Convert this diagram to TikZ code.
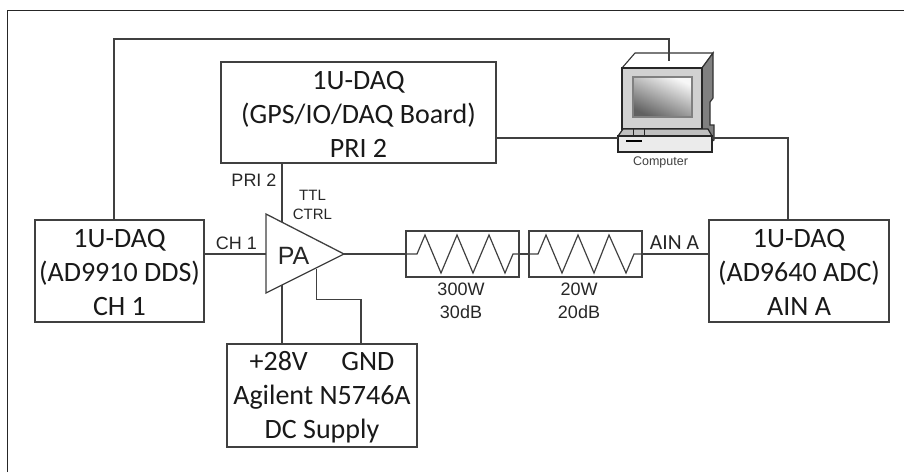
\documentclass[tikz,border=0pt]{standalone}
\usepackage{fontspec}
\setmainfont{Carlito}
\newfontfamily\arialf{Liberation Sans}
\tikzset{
  wire/.style={draw=black!75,line width=1.2pt},
  blockbox/.style={draw=black!75,line width=1.3pt,fill=white,inner sep=0pt},
  boxtext/.style={inner sep=0pt,align=center,font=\fontsize{28}{34}\selectfont,text=black!90},
  lab/.style={font=\arialf\fontsize{18}{20}\selectfont,text=black!85,inner sep=0pt,align=center},
  smalllab/.style={font=\arialf\fontsize{15}{19}\selectfont,text=black!85,inner sep=0pt,align=center},
  attlab/.style={font=\arialf\fontsize{18}{23}\selectfont,text=black!85,inner sep=0pt,align=center},
  resbox/.style={draw=black!75,line width=1.2pt,minimum width=113pt,minimum height=46pt,inner sep=0pt},
  zig/.style={draw=black!75,line width=1.2pt,line join=miter},
}
\begin{document}
\begin{tikzpicture}[x=1pt,y=-1pt]
\useasboundingbox (0,0) rectangle (904,472);
\draw[black!85,line width=1pt] (7.5,472) -- (7.5,10) -- (904,10);
% computer
\path[draw=black!80,line width=1.1pt,fill=white] (622,68) -- (635,53) -- (713,53) -- (702,68) -- cycle;
\path[draw=black!80,line width=1.2pt,fill=black!50] (702,68) -- (713,53) -- (713,98) -- (710,102) -- (710,125) -- (714,125) -- (714,140) -- (702,148) -- cycle;
\path[draw=black!85,line width=1.2pt,fill=black!18] (622,68) rectangle (702,129);
\shade[shading=axis,left color=black!3,right color=black!62,shading angle=-25,draw=black!50,line width=1.5pt] (633,77) rectangle (692,117);
\path[draw=black!85,line width=1.2pt,fill=black!25] (618,136) -- (623,129) -- (708,129) -- (712,136) -- cycle;
\path[draw=black!85,line width=1.2pt,fill=black!8] (618,136) rectangle (712,152);
\fill[black] (626,139.5) rectangle (642,142);
\draw[black!85,line width=1pt] (633,129) -- (633,136) (644,129) -- (644,136);
\node[font=\arialf\fontsize{12.5}{14}\selectfont,text=black!75,inner sep=0pt] (pc) at (660.5,162) {Computer};
\coordinate (pcup) at (669,61);
\coordinate (pcleft) at (618,138);
\coordinate (pcright) at (712,138);
% blocks
\node[blockbox,minimum width=275pt,minimum height=101pt] (gps) at (358.5,112.5) {};
\node[boxtext] (gpst) at ([yshift=-2pt]gps.center) {1U-DAQ\\(GPS/IO/DAQ Board)\\PRI 2};
\node[blockbox,minimum width=169pt,minimum height=102pt] (dds) at (119.5,271) {};
\node[boxtext] (ddst) at ([yshift=-1.5pt]dds.center) {1U-DAQ\\(AD9910 DDS)\\CH 1};
\node[blockbox,minimum width=180pt,minimum height=102pt] (adc) at (799,271) {};
\node[boxtext] (adct) at ([yshift=-1.5pt]adc.center) {1U-DAQ\\(AD9640 ADC)\\AIN A};
\node[blockbox,minimum width=190pt,minimum height=103pt] (sup) at (322,395.5) {};
\node[boxtext] (supt) at ([yshift=-1.5pt]sup.center) {+28V\hspace{1.2em}GND\\Agilent N5746A\\DC Supply};
% PA
\coordinate (pat) at (266,214);
\coordinate (pab) at (266,293);
\coordinate (pao) at (344,254);
\path[draw=black!75,line width=1.3pt,fill=white] (pat) -- (pao) -- (pab) -- cycle;
\node[font=\arialf\fontsize{25}{26}\selectfont,text=black!85,inner sep=0pt] (pa) at (293.5,256) {PA};
% attenuators
\node[resbox] (r1) at (462.5,254) {};
\node[resbox] (r2) at (585.5,254) {};
\draw[zig] (406,254) -- (417,254) -- (425,235) -- (441,273) -- (457,235) -- (473,273) -- (489,235) -- (505,273) -- (513,254) -- (519,254);
\draw[zig] (529,254) -- (538,254) -- (546,235) -- (562,273) -- (578,235) -- (594,273) -- (609,235) -- (626,273) -- (634,254) -- (642,254);
% wires
\draw[wire] (dds.east |- 0,254) -- (266,254);
\draw[wire] (pao) -- (r1.west);
\draw[wire] (r1.east) -- (r2.west);
\draw[wire] (r2.east) -- (adc.west |- 0,254);
\draw[wire] (282,163) -- (282,222);
\draw[wire] (282,285) -- (282,344);
\draw[wire] (316.5,269) -- (316.5,299.5) -- (361,299.5) -- (361,344);
\draw[wire] (114,220) -- (114,39) -- (669,39) -- (pcup);
\draw[wire] (gps.east |- 0,138) -- (pcleft);
\draw[wire] (pcright) -- (788,138) -- (788,220);
% labels
\node[lab] (lpri) at (254,180) {PRI 2};
\node[smalllab] (lttl) at (312.5,205) {TTL\\CTRL};
\node[lab] (lch) at (236.5,243) {CH 1};
\node[font=\fontsize{21.5}{22}\selectfont,text=black!85,inner sep=0pt] (lain) at (674.5,243) {AIN A};
\node[attlab] (l1) at (461,300.5) {300W\\30dB};
\node[attlab] (l2) at (579,300.5) {20W\\20dB};
\end{tikzpicture}
\end{document}
